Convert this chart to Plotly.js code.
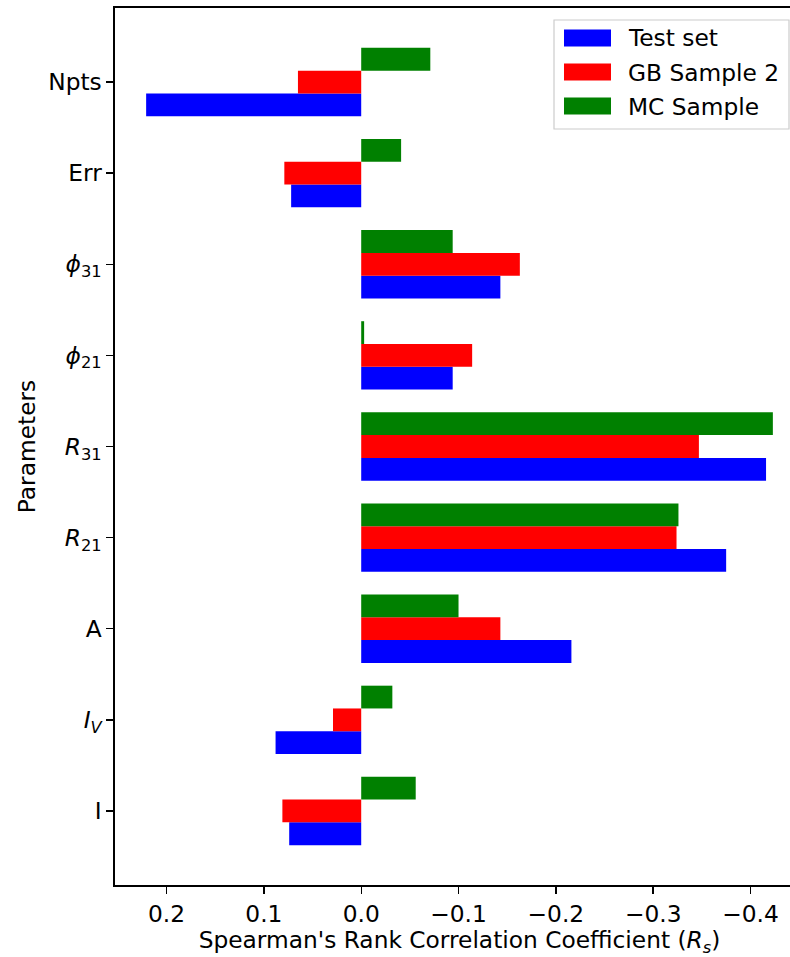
<!DOCTYPE html>
<html><head><meta charset="utf-8">
<script src="https://cdn.plot.ly/plotly-3.0.1.min.js"></script>
<style>html,body{margin:0;padding:0;overflow:hidden;background:#fff;}</style>
</head><body>
<div id="chart"></div>
<script>
const categories = ["I", "<i>I</i><sub><i>V</i></sub>", "A", "<i>R</i><sub>21</sub>", "<i>R</i><sub>31</sub>", "<i>ϕ</i><sub>21</sub>", "<i>ϕ</i><sub>31</sub>", "Err", "Npts"];
const testSet   = [0.074, 0.088, -0.216, -0.375, -0.416, -0.094, -0.143, 0.072, 0.221];
const gbSample2 = [0.081, 0.029, -0.143, -0.324, -0.347, -0.114, -0.163, 0.079, 0.065];
const mcSample  = [-0.056, -0.032, -0.100, -0.326, -0.423, -0.003, -0.094, -0.041, -0.071];
const seriesNames = ["Test set", "GB Sample 2", "MC Sample"];
const seriesColors = ["#0000ff", "#ff0000", "#008000"];
const xTickVals = [0.2, 0.1, 0.0, -0.1, -0.2, -0.3, -0.4];
const xTickText = ["0.2", "0.1", "0.0", "\u22120.1", "\u22120.2", "\u22120.3", "\u22120.4"];

const FONT = "DejaVu Sans, sans-serif";
const FS = 23.3;
const W = 806, H = 957;
const mL = 115, mR = 2, mT = 8, mB = 72;
const pw = W - mL - mR, ph = H - mT - mB;
const px = x => (x - mL) / pw;
const py = y => (H - mB - y) / ph;

const allSeries = [testSet, gbSample2, mcSample];
const data = allSeries.map((vals, i) => ({
  type: "bar", orientation: "h", x: vals, y: categories,
  name: seriesNames[i], marker: {color: seriesColors[i], line: {width: 0}},
  showlegend: false, hoverinfo: "x+name"
}));

// legend drawn in paper coordinates
const shapes = [{
  type: "rect", xref: "paper", yref: "paper",
  x0: px(554), x1: px(789), y0: py(129), y1: py(20),
  line: {color: "#cccccc", width: 1.2}, fillcolor: "rgba(255,255,255,0.8)", layer: "above"
}];
const annotations = [];
const rowY = [38, 72, 106];
seriesNames.forEach((n, i) => {
  shapes.push({type: "rect", xref: "paper", yref: "paper",
    x0: px(564), x1: px(611), y0: py(rowY[i] + 8.5), y1: py(rowY[i] - 8.5),
    line: {width: 0}, fillcolor: seriesColors[i], layer: "above"});
  annotations.push({xref: "paper", yref: "paper", x: px(626), y: py(rowY[i]),
    xanchor: "left", yanchor: "middle", text: n, showarrow: false,
    font: {family: FONT, size: FS, color: "#000"}});
});

const layout = {
  width: W, height: H,
  margin: {l: mL, r: mR, t: mT, b: mB, pad: 0},
  paper_bgcolor: "#fff", plot_bgcolor: "#fff",
  font: {family: FONT, size: FS, color: "#000"},
  barmode: "group", bargap: 0.25, bargroupgap: 0,
  xaxis: {
    range: [0.253, -0.455], tickvals: xTickVals, ticktext: xTickText,
    showgrid: false, zeroline: false, showline: true, mirror: true,
    linecolor: "#000", linewidth: 1.6, ticks: "outside", ticklen: 7, tickwidth: 1.4, tickcolor: "#000",
    tickfont: {family: FONT, size: FS, color: "#000"},
    title: {text: "Spearman's Rank Correlation Coefficient (<i>R</i><sub><i>s</i></sub>)",
      font: {family: FONT, size: FS, color: "#000"}, standoff: 4}
  },
  yaxis: {
    type: "category", categoryorder: "array", categoryarray: categories,
    range: [-0.8125, 8.8125],
    showgrid: false, zeroline: false, showline: true, mirror: true,
    linecolor: "#000", linewidth: 1.6, ticks: "outside", ticklen: 7, tickwidth: 1.4, tickcolor: "#000",
    tickfont: {family: FONT, size: FS, color: "#000"},
    title: {text: "Parameters", font: {family: FONT, size: FS, color: "#000"}, standoff: 6}
  },
  shapes: shapes, annotations: annotations, showlegend: false
};
Plotly.newPlot("chart", data, layout, {displayModeBar: false, staticPlot: true});
</script>
</body></html>
